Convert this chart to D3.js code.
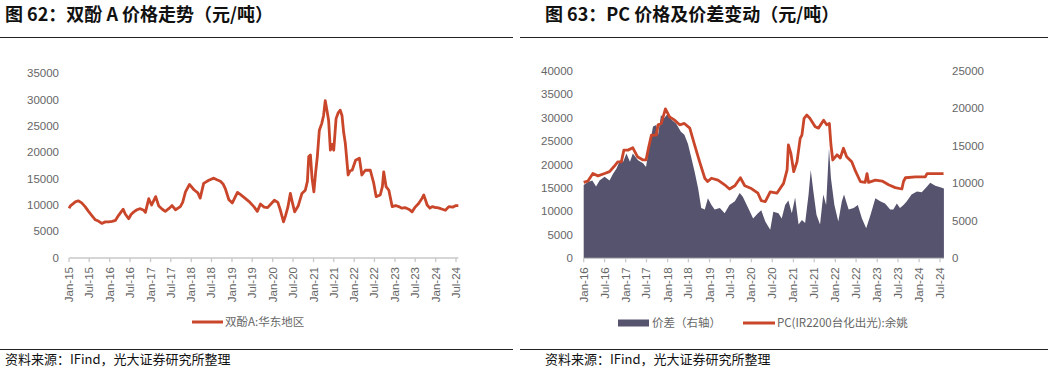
<!DOCTYPE html>
<html>
<head>
<meta charset="utf-8">
<script src="https://cdn.jsdelivr.net/npm/d3@7"></script>
<style>
  body { margin: 0; background: #fff; }
  svg { display: block; }
</style>
</head>
<body>
<script>
// 图62: 双酚A:华东地区 (元/吨)
const bpaDates = [
  "2015-01-01","2015-01-16","2015-02-27","2015-03-25","2015-04-25","2015-05-25","2015-06-25","2015-07-25",
  "2015-08-25","2015-09-25","2015-10-22","2015-11-22","2015-12-22","2016-01-22","2016-02-22","2016-03-19",
  "2016-04-19","2016-05-01","2016-05-19","2016-06-19","2016-07-10","2016-08-04","2016-09-01","2016-10-01",
  "2016-11-01","2016-11-16","2016-12-16","2017-01-10","2017-02-16","2017-03-16","2017-04-16","2017-05-13",
  "2017-06-13","2017-07-13","2017-08-13","2017-09-25","2017-10-16","2017-11-10","2017-12-16","2018-01-25",
  "2018-03-01","2018-03-22","2018-04-22","2018-06-07","2018-07-22","2018-08-19","2018-09-19","2018-10-13",
  "2018-11-04","2018-12-04","2019-01-04","2019-02-19","2019-03-16","2019-04-16","2019-06-01","2019-07-16",
  "2019-08-16","2019-09-13","2019-10-16","2019-11-16","2019-12-16","2020-01-16","2020-02-16","2020-03-10",
  "2020-04-07","2020-04-25","2020-05-16","2020-06-07","2020-06-25","2020-07-16","2020-08-16","2020-09-19",
  "2020-10-19","2020-11-07","2020-11-19","2020-12-04","2020-12-19","2021-01-04","2021-01-19","2021-02-04",
  "2021-02-22","2021-03-16","2021-04-01","2021-04-16","2021-05-01","2021-05-16","2021-06-01","2021-06-16",
  "2021-07-01","2021-07-22","2021-08-10","2021-08-28","2021-09-13","2021-09-28","2021-10-13","2021-11-07",
  "2021-11-25","2021-12-13","2022-01-13","2022-02-16","2022-03-10","2022-04-10","2022-05-25","2022-06-25",
  "2022-07-16","2022-08-22","2022-09-10","2022-09-22","2022-10-13","2022-11-07","2022-12-07","2023-01-07",
  "2023-02-04","2023-03-04","2023-04-04","2023-05-04","2023-06-04","2023-07-01","2023-08-01","2023-09-01",
  "2023-09-16","2023-10-01","2023-10-16","2023-11-10","2023-12-01","2024-01-01","2024-01-16","2024-02-16",
  "2024-03-28","2024-04-28","2024-06-01","2024-07-01","2024-07-22"
];
const bpaPrices = [
  9400, 9900, 10600, 10800, 10400, 9700, 8800, 8000,
  7200, 6900, 6500, 6800, 6800, 6900, 7100, 8000,
  8900, 9200, 8300, 7400, 8200, 8700, 9100, 9300,
  9000, 8600, 11200, 10000, 11600, 9800, 9200, 8800,
  9300, 9900, 9100, 9700, 10500, 12500, 13900, 12900,
  12300, 11300, 14100, 14700, 15100, 14800, 14500, 14000,
  13000, 11000, 10400, 12400, 12000, 11500, 10700, 9700,
  8800, 10200, 9600, 9500, 10200, 10900, 10500, 9000,
  6800, 8000, 9600, 12200, 10500, 8700, 9800, 12200,
  12800, 14500, 19200, 19500, 15000, 12500, 16000, 19200,
  24200, 25500, 27000, 29800, 28000, 26100, 20400, 21500,
  20400, 26400, 27500, 28000, 27000, 23800, 21700, 15700,
  16500, 16600, 18500, 18900, 15700, 16600, 16600, 14100,
  11600, 11900, 13500, 16300, 13500, 12800, 9700, 9900,
  9700, 9400, 9500, 9200, 8700, 9600, 10300, 11300,
  11900, 11000, 10000, 9400, 9700, 9500, 9500, 9300,
  9000, 9700, 9600, 9900, 9900
];

// 图63: PC(IR2200台化出光):余姚 (左轴)
const pcDates = [
  "2016-01-01","2016-02-07","2016-03-21","2016-05-04","2016-07-01","2016-08-13","2016-09-21","2016-10-24",
  "2016-11-24","2016-12-16","2017-01-21","2017-03-04","2017-04-13","2017-06-01","2017-06-27","2017-07-18",
  "2017-08-13","2017-09-24","2017-10-10","2017-11-07","2017-12-13","2018-01-18","2018-03-04","2018-04-16",
  "2018-05-27","2018-07-13","2018-08-24","2018-10-07","2018-11-21","2018-12-16","2019-01-18","2019-03-16",
  "2019-05-13","2019-06-24","2019-08-10","2019-09-27","2019-11-04","2020-01-01","2020-02-27","2020-03-27",
  "2020-05-01","2020-06-13","2020-08-10","2020-10-07","2020-11-07","2020-11-18","2020-12-10","2021-01-04",
  "2021-02-01","2021-03-01","2021-03-16","2021-04-04","2021-04-27","2021-05-24","2021-07-10","2021-08-07",
  "2021-09-21","2021-10-18","2021-11-10","2021-11-24","2021-12-10","2022-01-16","2022-02-13","2022-03-13",
  "2022-04-10","2022-05-24","2022-06-21","2022-08-07","2022-09-18","2022-10-04","2022-10-18","2022-12-16",
  "2023-02-13","2023-04-10","2023-06-07","2023-08-04","2023-08-18","2023-09-04","2023-12-01","2024-02-24",
  "2024-03-10","2024-08-01"
];
const pcPrices = [
  16200, 16500, 18100, 17600, 18100, 18500, 19600, 20600,
  20600, 23100, 23100, 23600, 21700, 21000, 21000, 23500,
  26300, 26300, 28500, 28800, 31900, 30200, 29500, 28500,
  28800, 27800, 24200, 20600, 17100, 16400, 17100, 16700,
  15700, 14800, 15500, 17200, 15500, 14900, 13900, 12300,
  12100, 14200, 13900, 16000, 18900, 24200, 22400, 18500,
  20600, 25600, 26300, 29900, 30600, 29900, 28100, 27800,
  29500, 28500, 28800, 24200, 21000, 22100, 21400, 23500,
  21700, 20600, 18900, 16400, 16200, 18100, 16200, 16700,
  16500, 15700, 15100, 14800, 16400, 17200, 17400, 17400,
  18100, 18100
];

// 价差 (右轴)
const spreadDates = [
  "2016-01-01","2016-02-07","2016-03-16","2016-04-18","2016-05-18","2016-07-01","2016-08-13","2016-09-13",
  "2016-10-13","2016-11-13","2016-12-10","2017-01-07","2017-02-07","2017-03-04","2017-04-18","2017-06-01",
  "2017-06-27","2017-07-27","2017-08-27","2017-09-24","2017-10-10","2017-11-04","2017-12-01","2018-01-07",
  "2018-02-04","2018-03-16","2018-04-27","2018-05-27","2018-06-27","2018-07-24","2018-08-24","2018-09-24",
  "2018-10-21","2018-11-21","2018-12-18","2019-01-18","2019-02-15","2019-04-01","2019-05-13","2019-06-24",
  "2019-08-10","2019-09-21","2019-10-18","2019-12-04","2020-01-16","2020-02-27","2020-03-27","2020-05-01",
  "2020-06-13","2020-07-10","2020-08-24","2020-09-21","2020-10-21","2020-11-18","2020-12-18","2021-01-16",
  "2021-02-15","2021-03-16","2021-04-13","2021-05-13","2021-06-01","2021-06-24","2021-07-21","2021-08-21",
  "2021-09-18","2021-10-13","2021-11-07","2021-11-24","2021-12-24","2022-01-27","2022-02-27","2022-03-18",
  "2022-04-27","2022-06-10","2022-07-16","2022-08-21","2022-09-27","2022-11-04","2022-12-16","2023-01-27",
  "2023-03-10","2023-04-24","2023-05-21","2023-06-21","2023-07-18","2023-08-18","2023-09-16","2023-10-27",
  "2023-12-13","2024-01-24","2024-03-10","2024-04-07","2024-05-21","2024-07-04","2024-08-04"
];
const spreadValues = [
  9800, 10200, 10400, 9600, 10400, 10900, 10400, 11300,
  12000, 13100, 12900, 14000, 12900, 14000, 13100, 12700,
  12200, 15100, 17600, 17800, 16500, 19100, 18700, 19400,
  18500, 18000, 16900, 16500, 15300, 13600, 11600, 9300,
  6700, 6500, 8000, 7100, 6500, 6700, 6000, 7100,
  7600, 8700, 8200, 6700, 5300, 6000, 6400, 4900,
  3800, 6200, 6000, 5300, 7100, 7700, 6000, 8100,
  4500, 5100, 4700, 8500, 11800, 8900, 5800, 4500,
  8500, 7100, 14700, 10700, 7100, 4900, 7600, 8500,
  6500, 6700, 7100, 5300, 4000, 5800, 8000, 7600,
  7300, 6500, 6500, 7300, 6700, 7100, 7600, 8500,
  8900, 8800, 9600, 10100, 9700, 9500, 9300
];

const leftYTicks = [0, 5000, 10000, 15000, 20000, 25000, 30000, 35000];
const pcYTicks = [0, 5000, 10000, 15000, 20000, 25000, 30000, 35000, 40000];
const spreadYTicks = [0, 5000, 10000, 15000, 20000, 25000];

const parse = d3.timeParse("%Y-%m-%d");
const fmt = d3.timeFormat("%b-%y");

const lineColor = "#C9462A";
const areaColor = "#56536F";
const labelColor = "#666666";
const axisColor = "#C8C8C8";
const latin = "'Liberation Sans', Arial, sans-serif";
const cjk = "'Noto Sans CJK SC', sans-serif";

const svg = d3.select("body").append("svg")
  .attr("width", 1054)
  .attr("height", 370);

// headers and footers
function frame(x0, x1, tx, title) {
  svg.append("text")
    .attr("x", tx).attr("y", 21)
    .attr("font-family", cjk).attr("font-weight", "bold")
    .attr("font-size", 18).attr("fill", "#111")
    .text(title);
  svg.append("line")
    .attr("x1", x0).attr("x2", x1).attr("y1", 37.5).attr("y2", 37.5)
    .attr("stroke", "#222").attr("stroke-width", 1.2);
  svg.append("line")
    .attr("x1", x0).attr("x2", x1).attr("y1", 349.5).attr("y2", 349.5)
    .attr("stroke", "#222").attr("stroke-width", 1.2);
  svg.append("text")
    .attr("x", tx).attr("y", 363.5)
    .attr("font-family", cjk).attr("font-size", 13).attr("fill", "#111")
    .text("资料来源：IFind，光大证券研究所整理");
}
frame(0, 513, 5, "图 62：双酚 A 价格走势（元/吨）");
frame(520, 1048, 545, "图 63：PC 价格及价差变动（元/吨）");

// x axis with rotated labels
function xAxis(x, y0, start, end, lastDate) {
  const g = svg.append("g").attr("transform", `translate(0,${y0})`);
  const ticks = d3.timeMonth.every(6).range(start, d3.timeDay.offset(end, 1));
  g.append("line")
    .attr("x1", x(start)).attr("x2", x(lastDate))
    .attr("stroke", axisColor).attr("stroke-width", 1.3);
  g.selectAll(".tk").data(ticks).join("line")
    .attr("x1", d => x(d)).attr("x2", d => x(d))
    .attr("y1", 0).attr("y2", 4)
    .attr("stroke", axisColor).attr("stroke-width", 1.3);
  g.selectAll(".lb").data(ticks).join("text")
    .attr("transform", d => `translate(${x(d) + 4},9) rotate(-90)`)
    .attr("text-anchor", "end")
    .attr("font-family", latin).attr("font-size", 11.5)
    .attr("fill", labelColor)
    .text(d => fmt(d));
}

function yLabels(y, ticks, xPos, anchor) {
  svg.append("g").selectAll("text").data(ticks).join("text")
    .attr("x", xPos).attr("y", d => y(d) + 4)
    .attr("text-anchor", anchor)
    .attr("font-family", latin).attr("font-size", 11.5)
    .attr("fill", labelColor)
    .text(d => d);
}

// ---- left chart ----
{
  const data = bpaDates.map((d, i) => ({ date: parse(d), value: bpaPrices[i] }));
  const start = parse("2015-01-01"), end = parse("2024-07-01");
  const x = d3.scaleTime().domain([start, end]).range([69, 456]);
  const y = d3.scaleLinear().domain([0, 35000]).range([257.7, 73.3]);

  xAxis(x, 258, start, end, data[data.length - 1].date);
  yLabels(y, leftYTicks, 59, "end");

  svg.append("path")
    .datum(data)
    .attr("fill", "none")
    .attr("stroke", lineColor)
    .attr("stroke-width", 2.8)
    .attr("stroke-linejoin", "round")
    .attr("d", d3.line().x(d => x(d.date)).y(d => y(d.value)));

  // legend
  svg.append("line")
    .attr("x1", 192).attr("x2", 223).attr("y1", 322).attr("y2", 322)
    .attr("stroke", lineColor).attr("stroke-width", 3);
  svg.append("text")
    .attr("x", 225).attr("y", 326)
    .attr("font-family", cjk).attr("font-size", 11.5).attr("fill", labelColor)
    .text("双酚A:华东地区");
}

// ---- right chart ----
{
  const pc = pcDates.map((d, i) => ({ date: parse(d), value: pcPrices[i] }));
  const spread = spreadDates.map((d, i) => ({ date: parse(d), value: spreadValues[i] }));
  const start = parse("2016-01-01"), end = parse("2024-07-01");
  const x = d3.scaleTime().domain([start, end]).range([583.7, 940]);
  const yL = d3.scaleLinear().domain([0, 40000]).range([258.3, 71]);
  const yR = d3.scaleLinear().domain([0, 25000]).range([258.3, 71]);

  svg.append("path")
    .datum(spread)
    .attr("fill", areaColor)
    .attr("d", d3.area().x(d => x(d.date)).y0(yR(0)).y1(d => yR(d.value)));

  xAxis(x, 258.3, start, end, spread[spread.length - 1].date);
  yLabels(yL, pcYTicks, 573, "end");
  yLabels(yR, spreadYTicks, 952, "start");

  svg.append("path")
    .datum(pc)
    .attr("fill", "none")
    .attr("stroke", lineColor)
    .attr("stroke-width", 2.8)
    .attr("stroke-linejoin", "round")
    .attr("d", d3.line().x(d => x(d.date)).y(d => yL(d.value)));

  // legend
  svg.append("rect")
    .attr("x", 618).attr("y", 319.5).attr("width", 31).attr("height", 7)
    .attr("fill", areaColor);
  svg.append("text")
    .attr("x", 652).attr("y", 327)
    .attr("font-family", cjk).attr("font-size", 11.5).attr("fill", labelColor)
    .text("价差（右轴）");
  svg.append("line")
    .attr("x1", 743).attr("x2", 775).attr("y1", 323).attr("y2", 323)
    .attr("stroke", lineColor).attr("stroke-width", 3);
  svg.append("text")
    .attr("x", 777).attr("y", 327)
    .attr("font-family", cjk).attr("font-size", 11.5).attr("fill", labelColor)
    .text("PC(IR2200台化出光):余姚");
}
</script>
</body>
</html>
